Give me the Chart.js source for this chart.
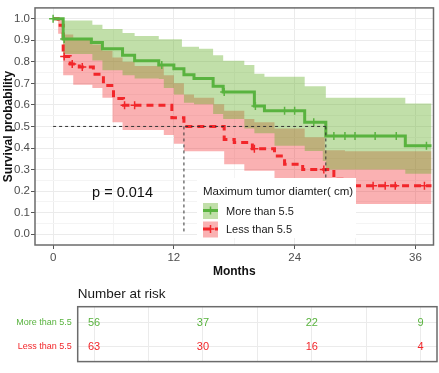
<!DOCTYPE html>
<html>
<head>
<meta charset="utf-8">
<script src="https://cdn.jsdelivr.net/npm/chart.js@4.4.1/dist/chart.umd.min.js"></script>
<style>
  body { margin: 0; background: #fff; }
  #wrap { position: relative; width: 439px; height: 373px; }
  #km { position: absolute; left: 0; top: 0; }
  #risk { position: absolute; left: 0; top: 282px; }
</style>
</head>
<body>
<div id="wrap">
  <canvas id="km" width="439" height="280"></canvas>
  <canvas id="risk" width="439" height="91"></canvas>
</div>
<script>
// Groups
const groups = ["More than 5.5", "Less than 5.5"];
const legendTitle = "Maximum tumor diamter( cm)";
const pvalText = "p = 0.014";
const pvalAt = [6.9, 0.19];

// Survival curves (months, probability)
const greenTime = [0, 1.0, 3.8, 4.9, 6.9, 8.1, 10.5, 12.0, 13.0, 14.0, 15.9, 16.9, 20.0, 21.0, 25.0, 27.1, 35.0, 37.6];
const greenSurv = [1.0, 0.906, 0.89, 0.86, 0.83, 0.805, 0.785, 0.768, 0.74, 0.723, 0.686, 0.66, 0.595, 0.573, 0.52, 0.456, 0.41, 0.41];
const greenCensor = [0, 1.1, 10.8, 17.0, 20.1, 23.0, 24.0, 25.9, 27.9, 29.0, 30.0, 32.0, 34.1, 37.1];

const redTime = [0, 0.5, 1.0, 1.7, 2.6, 4.0, 5.0, 6.0, 7.0, 11.8, 13.0, 17.0, 18.0, 19.8, 22.0, 23.0, 24.8, 27.9, 29.0, 37.6];
const redSurv = [1.0, 0.97, 0.825, 0.79, 0.776, 0.742, 0.69, 0.63, 0.598, 0.54, 0.5, 0.44, 0.425, 0.397, 0.363, 0.325, 0.30, 0.255, 0.225, 0.225];
const redCensor = [1.1, 1.9, 2.9, 7.1, 8.1, 20.0, 26.9, 31.8, 33.0, 34.0, 36.9];

// Confidence bands
const greenBandTime = [0, 1.0, 3.9, 4.9, 6.9, 8.1, 10.5, 11.0, 12.0, 12.8, 13.0, 14.0, 14.5, 15.9, 16.9, 19.0, 20.0, 21.0, 22.0, 25.0, 26.8, 27.1, 35.0, 37.6];
const greenUpper = [1.0, 0.991, 0.972, 0.952, 0.934, 0.92, 0.905, 0.905, 0.905, 0.87, 0.87, 0.87, 0.86, 0.83, 0.805, 0.785, 0.745, 0.73, 0.73, 0.686, 0.686, 0.633, 0.606, 0.606];
const greenLower = [1.0, 0.836, 0.806, 0.761, 0.738, 0.723, 0.72, 0.678, 0.648, 0.648, 0.61, 0.603, 0.603, 0.558, 0.535, 0.49, 0.468, 0.468, 0.41, 0.386, 0.34, 0.30, 0.28, 0.28];

const redBandTime = [0, 0.5, 1.0, 2.0, 3.9, 4.9, 5.9, 6.9, 8.1, 11.0, 12.0, 13.0, 14.0, 16.0, 17.0, 19.0, 20.0, 22.0, 23.0, 25.0, 27.0, 29.0, 37.6];
const redUpper = [1.0, 1.0, 0.927, 0.904, 0.88, 0.851, 0.82, 0.80, 0.78, 0.738, 0.70, 0.648, 0.633, 0.603, 0.573, 0.535, 0.52, 0.49, 0.49, 0.45, 0.39, 0.385, 0.385];
const redLower = [1.0, 0.93, 0.738, 0.694, 0.678, 0.633, 0.52, 0.483, 0.483, 0.46, 0.42, 0.385, 0.385, 0.385, 0.325, 0.295, 0.295, 0.25, 0.22, 0.20, 0.17, 0.14, 0.14];

// Number at risk
const riskTimes = [0, 12, 24, 36];
const riskMore = [56, 37, 22, 9];
const riskLess = [63, 30, 16, 4];

const xTicks = [0, 6, 12, 18, 24, 30, 36];

// Style
const green = "#59B33F";
const red = "#F2262A";
const greenFill = "rgba(100,175,40,0.40)";
const redFill = "rgba(242,38,42,0.36)";
const font = "'Liberation Sans', Arial, sans-serif";
const gridMajor = "#EBEBEB";
const gridMinor = "#F4F4F4";

function pts(xs, ys) {
  return xs.map((x, i) => ({x: x, y: ys[i]}));
}
function survAt(times, surv, t) {
  let v = surv[0];
  for (let i = 0; i < times.length; i++) {
    if (times[i] <= t) v = surv[i];
  }
  return v;
}
function medianOf(times, surv) {
  for (let i = 0; i < times.length; i++) {
    if (surv[i] <= 0.5) return times[i];
  }
  return null;
}

const greenMed = medianOf(greenTime, greenSurv);
const redMed = medianOf(redTime, redSurv);

const band = (data, color, fill, order) => ({
  data: data, stepped: true, borderWidth: 0, pointRadius: 0,
  backgroundColor: color, fill: fill, order: order
});
const medLine = (data) => ({
  data: data, borderColor: "#333", borderWidth: 1, borderDash: [3, 3],
  pointRadius: 0, fill: false, order: 0
});
const censor = (times, surv, censorTimes, color) => ({
  data: censorTimes.map(t => ({x: t, y: survAt(times, surv, t)})),
  showLine: false, pointStyle: "cross", pointRadius: 4,
  pointBorderWidth: 1.5, pointBorderColor: color, order: 0
});

// Plot frame, p-value and legend
const kmExtras = {
  id: "kmExtras",
  afterDraw(chart) {
    const ctx = chart.ctx;
    const a = chart.chartArea;
    const sx = chart.scales.x, sy = chart.scales.y;
    ctx.save();
    ctx.strokeStyle = "#6b6b6b";
    ctx.lineWidth = 1.5;
    ctx.strokeRect(a.left, a.top, a.right - a.left, a.bottom - a.top);

    ctx.fillStyle = "#111";
    ctx.font = "14.5px " + font;
    ctx.textAlign = "center";
    ctx.textBaseline = "middle";
    ctx.fillText(pvalText, sx.getPixelForValue(pvalAt[0]), sy.getPixelForValue(pvalAt[1]));

    // legend
    const lx = 197, ly = 178;
    ctx.fillStyle = "#fff";
    ctx.fillRect(lx, ly, 159, 60);
    ctx.fillStyle = "#1a1a1a";
    ctx.textAlign = "left";
    ctx.font = "11.5px " + font;
    ctx.fillText(legendTitle, lx + 6, ly + 14);
    const keys = [[green, greenFill, []], [red, redFill, [7, 5]]];
    keys.forEach((k, i) => {
      const top = ly + 25 + i * 18.5;
      const cy = top + 7.5;
      ctx.fillStyle = k[1];
      ctx.fillRect(lx + 6, top, 15, 16);
      ctx.strokeStyle = k[0];
      ctx.lineWidth = 3;
      ctx.setLineDash(k[2]);
      ctx.beginPath();
      ctx.moveTo(lx + 6, cy);
      ctx.lineTo(lx + 21, cy);
      ctx.stroke();
      ctx.setLineDash([]);
      ctx.lineWidth = 1.5;
      ctx.beginPath();
      ctx.moveTo(lx + 13.5, cy - 4);
      ctx.lineTo(lx + 13.5, cy + 4);
      ctx.moveTo(lx + 9.5, cy);
      ctx.lineTo(lx + 17.5, cy);
      ctx.stroke();
      ctx.fillStyle = "#1a1a1a";
      ctx.font = "11px " + font;
      ctx.fillText(groups[i], lx + 29, cy + 1);
    });
    ctx.restore();
  }
};

new Chart(document.getElementById("km"), {
  type: "line",
  data: {
    datasets: [
      band(pts(greenBandTime, greenUpper), greenFill, "+1", 2),
      band(pts(greenBandTime, greenLower), "transparent", false, 2),
      band(pts(redBandTime, redUpper), redFill, "+1", 3),
      band(pts(redBandTime, redLower), "transparent", false, 3),
      medLine([{x: 0, y: 0.5}, {x: greenMed, y: 0.5}]),
      medLine([{x: redMed, y: 0.5}, {x: redMed, y: 0}]),
      medLine([{x: greenMed, y: 0.5}, {x: greenMed, y: 0}]),
      {
        data: pts(greenTime, greenSurv), stepped: true, borderColor: green,
        borderWidth: 3, pointRadius: 0, fill: false, order: 1
      },
      {
        data: pts(redTime, redSurv), stepped: true, borderColor: red,
        borderWidth: 3, borderDash: [7, 5], pointRadius: 0, fill: false, order: 1
      },
      censor(greenTime, greenSurv, greenCensor, green),
      censor(redTime, redSurv, redCensor, red)
    ]
  },
  options: {
    responsive: false,
    animation: false,
    layout: {padding: {top: 1.4, right: 1.5, left: 0, bottom: 0}},
    plugins: {legend: {display: false}, tooltip: {enabled: false}},
    scales: {
      x: {
        type: "linear", min: -1.8, max: 37.8,
        afterBuildTicks: s => { s.ticks = xTicks.map(v => ({value: v})); },
        afterFit: s => { s.height = 35; },
        ticks: {
          callback: v => (v % 12 === 0 ? v : ""),
          color: "#4D4D4D", font: {family: font, size: 11.5},
          padding: 2, maxRotation: 0, autoSkip: false
        },
        grid: {
          color: c => (c.tick && c.tick.value % 12 === 0 ? gridMajor : gridMinor),
          tickColor: c => (c.tick && c.tick.value % 12 === 0 ? "#555" : "transparent"),
          tickLength: 4
        },
        border: {display: false},
        title: {
          display: true, text: "Months", color: "#111",
          font: {family: font, size: 12, weight: "bold"},
          padding: {top: 0, bottom: 1}
        }
      },
      y: {
        min: -0.05, max: 1.05,
        afterBuildTicks: s => {
          const t = [];
          for (let i = 0; i <= 20; i++) t.push({value: i * 0.05});
          s.ticks = t;
        },
        afterFit: s => { s.width = 35; },
        ticks: {
          callback: (v, i) => (i % 2 === 0 ? v.toFixed(1) : ""),
          color: "#4D4D4D", font: {family: font, size: 11.5}, padding: 1,
          autoSkip: false
        },
        grid: {
          color: c => (c.index % 2 === 0 ? gridMajor : gridMinor),
          tickColor: c => (c.index % 2 === 0 ? "#555" : "transparent"),
          tickLength: 4
        },
        border: {display: false},
        title: {
          display: true, text: "Survival probability", color: "#111",
          font: {family: font, size: 12, weight: "bold"},
          padding: {top: 1, bottom: 0}
        }
      }
    }
  },
  plugins: [kmExtras]
});

// Risk table
const riskExtras = {
  id: "riskExtras",
  afterDraw(chart) {
    const ctx = chart.ctx;
    const a = chart.chartArea;
    ctx.save();
    ctx.textAlign = "center";
    ctx.textBaseline = "middle";
    ctx.font = "11px " + font;
    chart.data.datasets.forEach((ds, di) => {
      const meta = chart.getDatasetMeta(di);
      ctx.fillStyle = ds.textColor;
      meta.data.forEach((el, i) => {
        ctx.fillText(String(ds.data[i].n), el.x, el.y);
      });
    });
    ctx.strokeStyle = "#6b6b6b";
    ctx.lineWidth = 1.5;
    ctx.strokeRect(a.left, a.top, a.right - a.left, a.bottom - a.top);
    ctx.fillStyle = "#1a1a1a";
    ctx.textAlign = "left";
    ctx.font = "13.5px " + font;
    ctx.fillText("Number at risk", a.left, 12.5);
    ctx.restore();
  }
};

const riskColors = [green, red];
new Chart(document.getElementById("risk"), {
  type: "scatter",
  data: {
    datasets: [
      {data: riskTimes.map((t, i) => ({x: t, y: 0, n: riskMore[i]})), pointRadius: 0, textColor: green},
      {data: riskTimes.map((t, i) => ({x: t, y: 1, n: riskLess[i]})), pointRadius: 0, textColor: red}
    ]
  },
  options: {
    responsive: false,
    animation: false,
    layout: {padding: {top: 24.7, right: 2, left: 0, bottom: 2.3}},
    plugins: {legend: {display: false}, tooltip: {enabled: false}},
    scales: {
      x: {
        type: "linear", min: -1.8, max: 37.8,
        afterBuildTicks: s => { s.ticks = xTicks.map(v => ({value: v})); },
        afterFit: s => { s.height = 0; },
        ticks: {display: false},
        grid: {color: gridMajor, drawTicks: false},
        border: {display: false}
      },
      y: {
        type: "linear", reverse: true, min: -0.65, max: 1.6,
        afterBuildTicks: s => { s.ticks = [{value: 0}, {value: 1}]; },
        afterFit: s => { s.width = 77.7; },
        ticks: {
          callback: v => groups[v],
          color: c => riskColors[c.index],
          font: {family: font, size: 9}, padding: 6
        },
        grid: {color: gridMajor, drawTicks: false},
        border: {display: false}
      }
    }
  },
  plugins: [riskExtras]
});
</script>
</body>
</html>
